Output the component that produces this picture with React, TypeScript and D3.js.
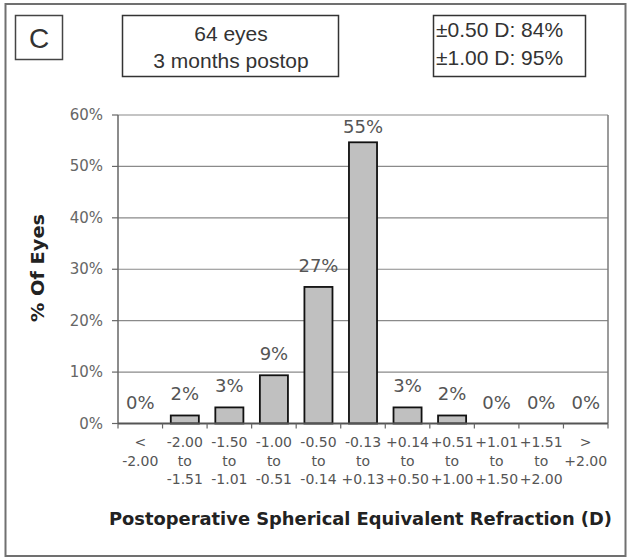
import * as d3 from "d3";

const categories = ["<-2.00", "-2.00..-1.51", "-1.50..-1.01", "-1.00..-0.51", "-0.50..-0.14", "-0.13..+0.13", "+0.14..+0.50", "+0.51..+1.00", "+1.01..+1.50", "+1.51..+2.00", ">+2.00"];
const tickLines = [
  ["<", "-2.00"],
  ["-2.00", "to", "-1.51"],
  ["-1.50", "to", "-1.01"],
  ["-1.00", "to", "-0.51"],
  ["-0.50", "to", "-0.14"],
  ["-0.13", "to", "+0.13"],
  ["+0.14", "to", "+0.50"],
  ["+0.51", "to", "+1.00"],
  ["+1.01", "to", "+1.50"],
  ["+1.51", "to", "+2.00"],
  [">", "+2.00"],
];
const percentEyes = [0, 1.56, 3.13, 9.38, 26.56, 54.69, 3.13, 1.56, 0, 0, 0];
const valueLabels = ["0%", "2%", "3%", "9%", "27%", "55%", "3%", "2%", "0%", "0%", "0%"];
const yTicks = [0, 10, 20, 30, 40, 50, 60];

const W = 629;
const H = 559;
const plot = { left: 118, right: 608, top: 115, bottom: 423.5 };

export default function App() {
  const x = d3
    .scaleBand<string>()
    .domain(categories)
    .range([plot.left, plot.right])
    .paddingInner(0.37)
    .paddingOuter(0.185);
  const y = d3.scaleLinear().domain([0, 60]).range([plot.bottom, plot.top]);
  const step = x.step();
  const tickFont = "'DejaVu Sans', Verdana, sans-serif";
  const boxFont = "'Liberation Sans', Arial, sans-serif";

  return (
    <svg
      width={W}
      height={H}
      style={{ position: "absolute", left: 0, top: 0, background: "#fff" }}
    >
      {/* outer frame */}
      <rect x={5.5} y={4} width={620} height={552} fill="none" stroke="#707070" strokeWidth={2} />

      {/* header boxes */}
      <rect x={15.5} y={15.5} width={47} height={44} fill="#fff" stroke="#444" strokeWidth={1.5} />
      <text x={39} y={48} textAnchor="middle" fontFamily={boxFont} fontSize={28} fill="#333">C</text>

      <rect x={122.5} y={15.5} width={216} height={61} fill="#fff" stroke="#333" strokeWidth={1.5} />
      <text x={231} y={41} textAnchor="middle" fontFamily={boxFont} fontSize={21} fill="#333">64 eyes</text>
      <text x={231} y={68} textAnchor="middle" fontFamily={boxFont} fontSize={21} fill="#333">3 months postop</text>

      <rect x={433.5} y={15.5} width={152} height={61} fill="#fff" stroke="#333" strokeWidth={1.5} />
      <text x={436} y={37} fontFamily={boxFont} fontSize={21} fill="#333">±0.50 D: 84%</text>
      <text x={436} y={65} fontFamily={boxFont} fontSize={21} fill="#333">±1.00 D: 95%</text>

      {/* gridlines */}
      {yTicks.slice(1).map((t) => (
        <line key={"g" + t} x1={plot.left} x2={plot.right} y1={y(t)} y2={y(t)} stroke="#8a8a8a" strokeWidth={1.2} />
      ))}
      {/* plot frame */}
      <line x1={plot.right} x2={plot.right} y1={plot.top} y2={plot.bottom} stroke="#7a7a7a" strokeWidth={1.5} />
      <line x1={plot.left} x2={plot.left} y1={plot.top} y2={plot.bottom} stroke="#666" strokeWidth={1.5} />

      {/* y ticks */}
      {yTicks.map((t) => (
        <g key={"y" + t}>
          <line x1={plot.left - 6} x2={plot.left} y1={y(t)} y2={y(t)} stroke="#666" strokeWidth={1.2} />
          <text x={103} y={y(t) + 5} textAnchor="end" fontFamily={tickFont} fontSize={15} fill="#666">
            {t + "%"}
          </text>
        </g>
      ))}

      {/* bars */}
      {categories.map((c, i) =>
        percentEyes[i] > 0 ? (
          <rect
            key={"b" + c}
            x={x(c)!}
            y={y(percentEyes[i])}
            width={x.bandwidth()}
            height={plot.bottom - y(percentEyes[i])}
            fill="#c0c0c0"
            stroke="#111"
            strokeWidth={1.8}
          />
        ) : null
      )}

      {/* value labels */}
      {categories.map((c, i) => (
        <text
          key={"v" + c}
          x={x(c)! + x.bandwidth() / 2}
          y={Math.max(y(percentEyes[i]) - 15, plot.top + 18)}
          textAnchor="middle"
          fontFamily={tickFont}
          fontSize={18}
          fill="#555"
        >
          {valueLabels[i]}
        </text>
      ))}

      {/* x axis */}
      <line x1={plot.left} x2={plot.right} y1={plot.bottom} y2={plot.bottom} stroke="#555" strokeWidth={1.8} />
      {d3.range(categories.length + 1).map((i) => (
        <line
          key={"t" + i}
          x1={plot.left + i * step}
          x2={plot.left + i * step}
          y1={plot.bottom}
          y2={plot.bottom + 5}
          stroke="#666"
          strokeWidth={1.2}
        />
      ))}
      {categories.map((c, i) => (
        <text
          key={"x" + c}
          x={x(c)! + x.bandwidth() / 2}
          textAnchor="middle"
          fontFamily={tickFont}
          fontSize={14}
          fill="#555"
        >
          {tickLines[i].map((s, j) => (
            <tspan key={j} x={x(c)! + x.bandwidth() / 2} y={447 + j * 18.5}>
              {s}
            </tspan>
          ))}
        </text>
      ))}

      {/* axis titles */}
      <text
        x={109}
        y={525}
        fontFamily={tickFont}
        fontWeight="bold"
        fontSize={17}
        fill="#222"
        textLength={503}
        lengthAdjust="spacingAndGlyphs"
      >
        Postoperative Spherical Equivalent Refraction (D)
      </text>
      <text
        transform={`translate(44,${268}) rotate(-90)`}
        textAnchor="middle"
        fontFamily={tickFont}
        fontWeight="bold"
        fontSize={17}
        fill="#222"
        textLength={108}
        lengthAdjust="spacingAndGlyphs"
      >
        % Of Eyes
      </text>
    </svg>
  );
}
